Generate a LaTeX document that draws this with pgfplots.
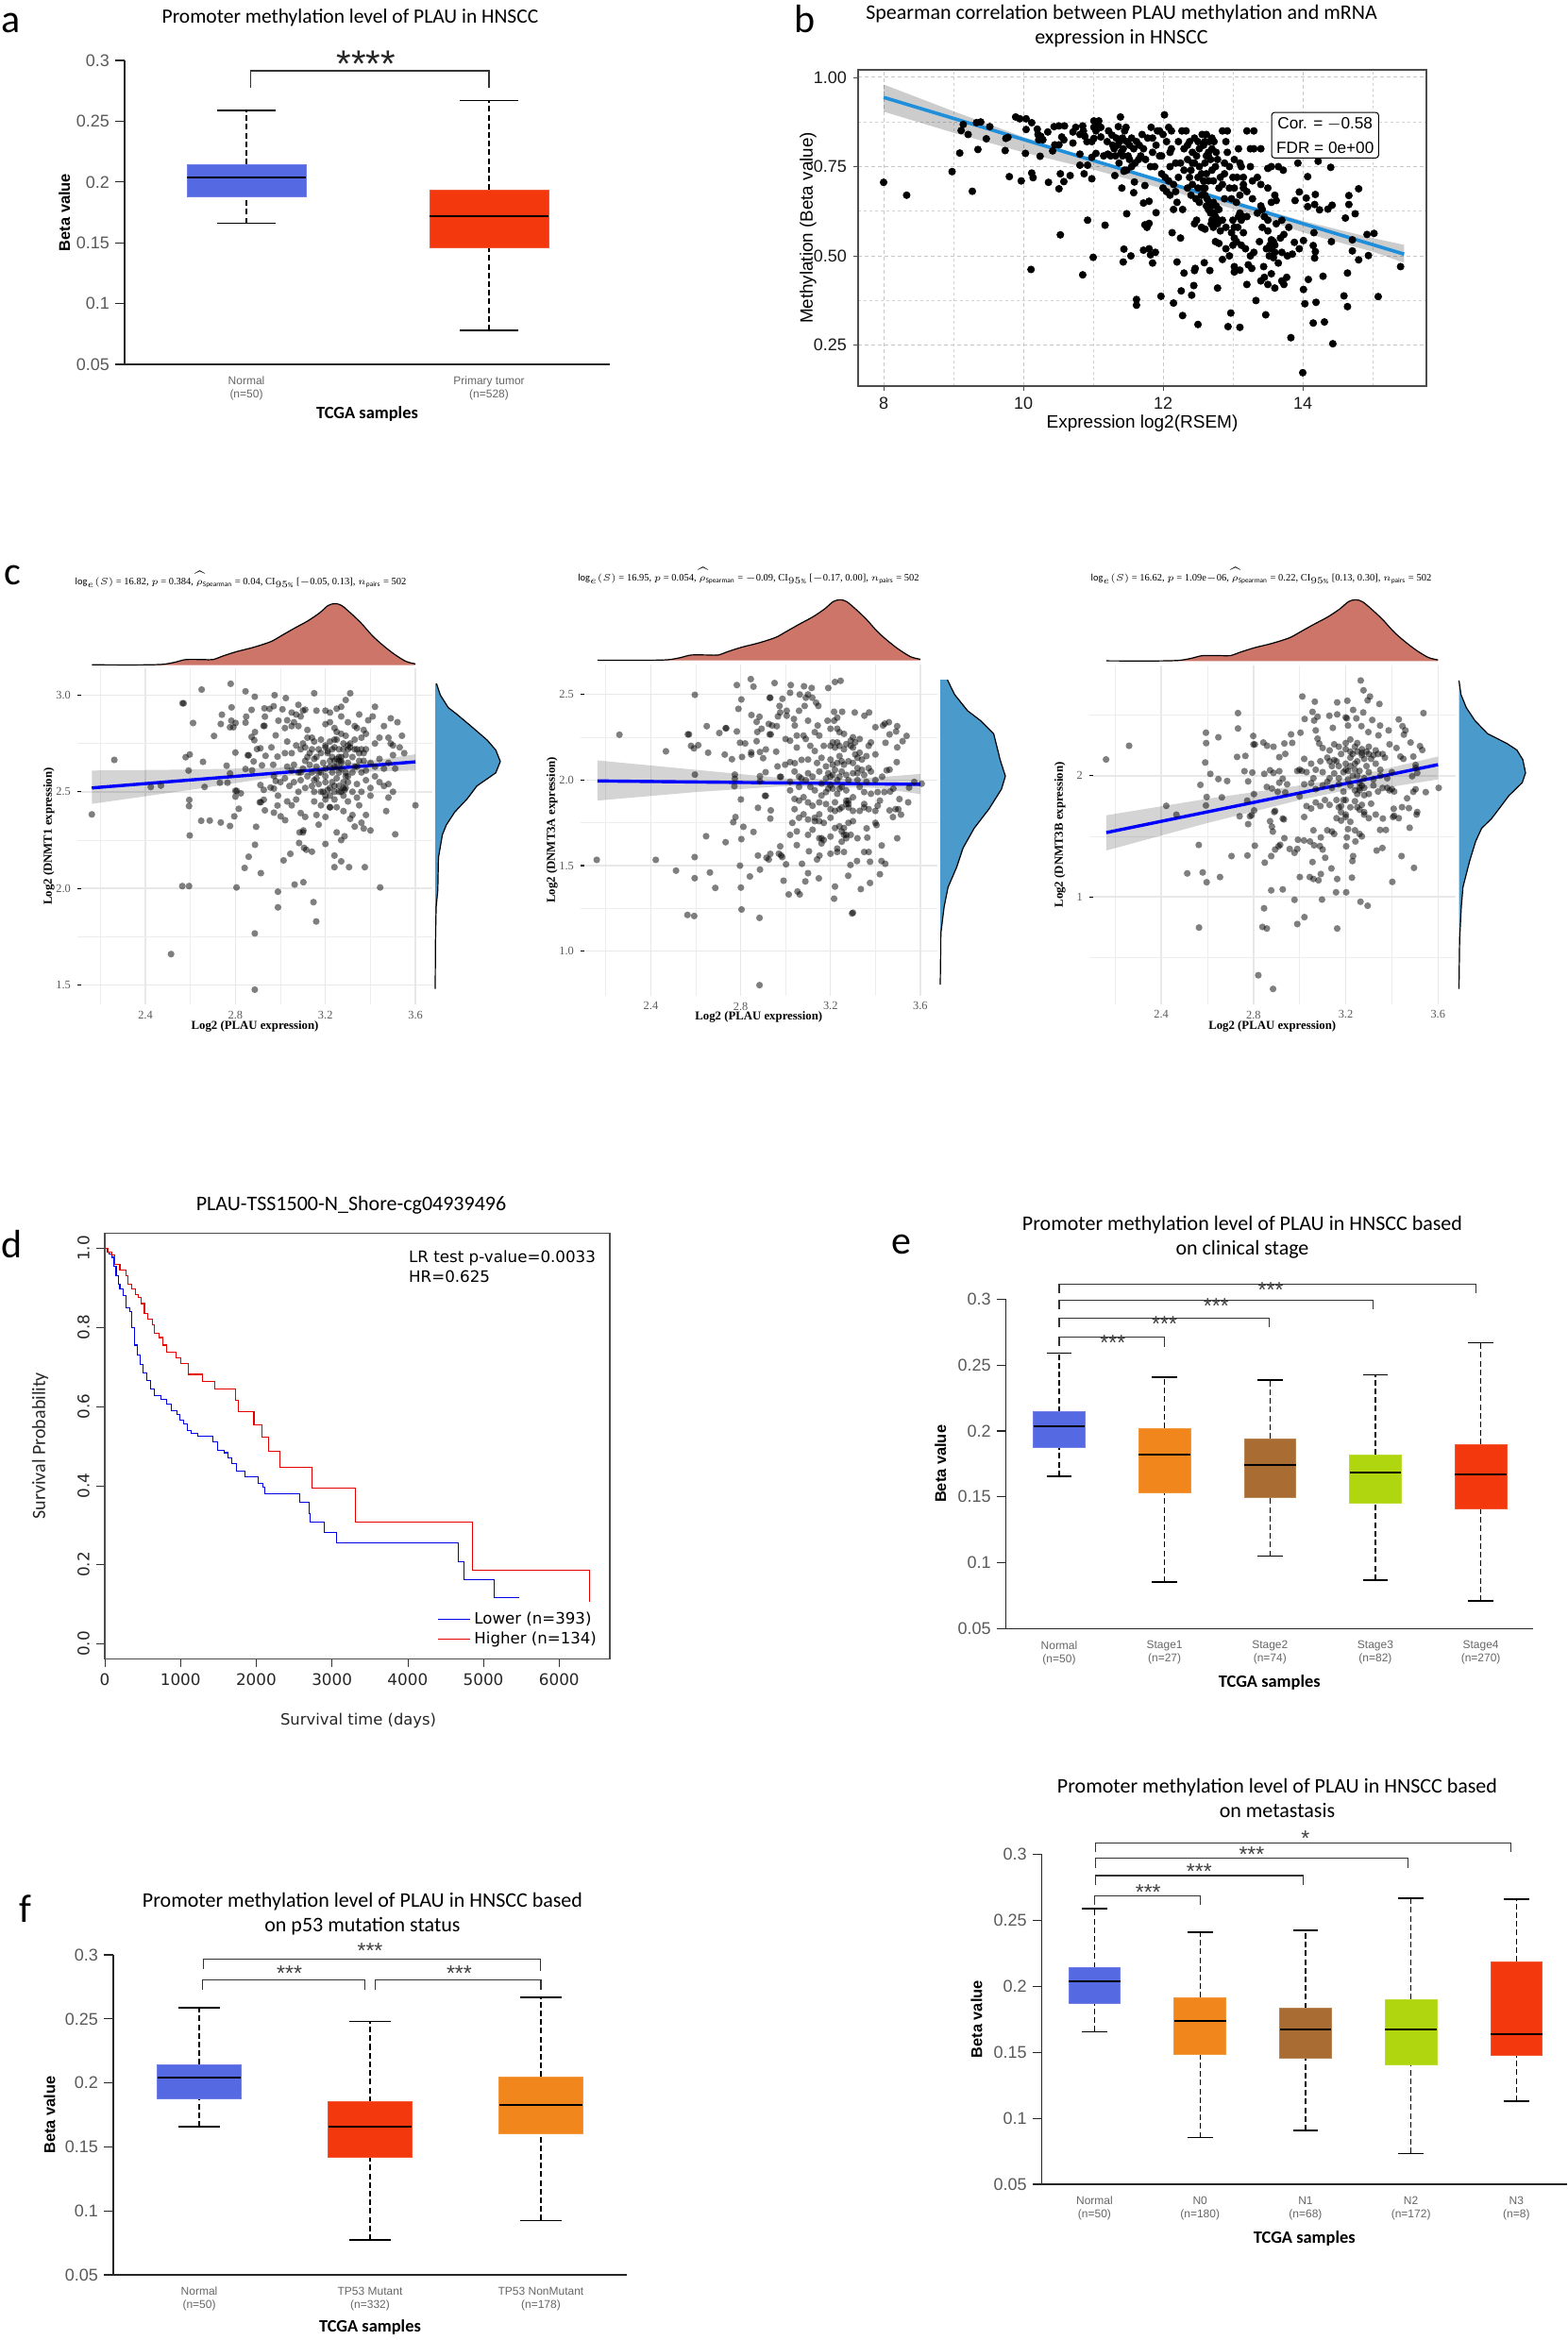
\documentclass[border=0pt]{standalone}
\usepackage{fontspec}
\usepackage{pgfplots}
\pgfplotsset{compat=1.18}
\setmainfont{Carlito}
\newfontfamily\lib{Liberation Sans}
\newfontfamily\libs{Liberation Serif}
\newfontfamily\dej{DejaVu Sans}
\newcommand{\fz}[2]{\fontsize{#1}{#2}\selectfont}
\definecolor{ubl}{HTML}{5469E2}
\definecolor{uor}{HTML}{F0861C}
\definecolor{ubr}{HTML}{A96D33}
\definecolor{ulm}{HTML}{AFD60F}
\definecolor{urd}{HTML}{F4380E}
\definecolor{dtop}{HTML}{CC7568}
\definecolor{dright}{HTML}{4A9BCB}
\definecolor{regb}{HTML}{1F8FDC}
\newcommand{\LET}[3]{\node[inner sep=0pt] at (#1*0.5pt,-#2*0.5pt) {\fz{21}{24}#3};}
\newcommand{\TTL}[3]{\node[inner sep=0pt,align=center,font=\fz{11}{13}] at (#1*0.5pt,-#2*0.5pt) {#3};}
% one box of a box plot: position, low whisker, q1, median, q3, high whisker, colour
\newcommand{\BX}[7]{%
 \pgfmathsetmacro\BXa{#1-.245}\pgfmathsetmacro\BXb{#1+.245}\pgfmathsetmacro\BXc{#1-.12}\pgfmathsetmacro\BXd{#1+.12}%
 \addplot[black,line width=.6pt,dash pattern=on 3pt off 1.6pt] coordinates {(#1,#2)(#1,#3)};
 \addplot[black,line width=.6pt,dash pattern=on 3pt off 1.6pt] coordinates {(#1,#5)(#1,#6)};
 \addplot[black,line width=.8pt] coordinates {(\BXc,#2)(\BXd,#2)};
 \addplot[black,line width=.8pt] coordinates {(\BXc,#6)(\BXd,#6)};
 \addplot[fill=#7,draw=#7!85!white,line width=.4pt] coordinates {(\BXa,#3)(\BXb,#3)(\BXb,#5)(\BXa,#5)} -- cycle;
 \addplot[black,line width=1pt] coordinates {(\BXa,#4)(\BXb,#4)};
}
\newcommand{\BR}[5]{\addplot[black!80,line width=.55pt] coordinates {(#1,#3)(#1,#4)(#2,#4)(#2,#5)};}
\newcommand{\ST}[3]{\node[inner sep=0pt,text=black!75,yshift=-2.5pt] at (axis cs:#1,#2) {\lib\fz{11.5}{12}#3};}
\pgfplotsset{
 ualcan/.style={scale only axis,clip=false,axis x line*=bottom,axis y line*=left,
   axis line style={-,black!85,line width=.7pt},
   ymin=.05,ymax=.3,ytick={.05,.1,.15,.2,.25,.3},yticklabels={0.05,0.1,0.15,0.2,0.25,0.3},
   tick align=outside,major tick length=5pt,tick style={black!85,line width=.6pt},
   x tick style={draw=none},
   yticklabel style={font=\lib\fz{9}{10},text=black!65,xshift=.5pt},
   xticklabel style={font=\lib\fz{6}{7},text=black!60,align=center,yshift=2pt},
   ylabel={Beta value},xlabel={TCGA samples},
   y label style={at={(axis description cs:-.124,.5)},anchor=center,font=\lib\bfseries\fz{8.2}{9}},
   x label style={at={(axis description cs:.5,-.164)},anchor=center,font=\bfseries\fz{9.2}{10}}},
 cc/.style={scale only axis,clip=false,
   xtick={2.4,2.8,3.2,3.6},xticklabels={2.4,2.8,3.2,3.6},minor xtick={2.2,2.6,3.0,3.4},
   grid=both,major grid style={draw=black!9,line width=.7pt},minor grid style={draw=black!7,line width=.4pt},
   axis line style={draw=none},tick pos=left,major tick length=2pt,minor tick length=0pt,
   x tick style={draw=none},y tick style={black,line width=.6pt},
   ticklabel style={font=\libs\fz{6.2}{7},text=black!65},
   xlabel={Log2 (PLAU expression)},
   x label style={font=\libs\bfseries\fz{6.4}{7},at={(axis description cs:.5,-.066)},anchor=center},
   y label style={font=\libs\bfseries\fz{6.4}{7},at={(axis description cs:-.08,.5)},anchor=center}},
 sc/.style={only marks,mark=*,mark size=1.8pt,mark options={draw opacity=0,line width=0pt,fill=black,fill opacity=.5}},
 ci/.style={fill=black,fill opacity=.17,draw=none},
 rl/.style={blue,line width=1.7pt},
 dtopax/.style={scale only axis,hide axis,xmin=#1,ymin=0,ymax=1,clip=false},
}
\newcommand{\TOPD}{
 \addplot[fill=dtop,draw=none] coordinates {(2.162,0)(2.355,.003)(2.475,.012)(2.535,.05)(2.58,.09)(2.656,.09)(2.70,.09)(2.746,.15)(2.806,.22)(2.881,.29)(2.956,.38)(3.00,.47)(3.062,.6)(3.122,.72)(3.174,.85)(3.212,.97)(3.242,1)(3.272,.97)(3.317,.83)(3.362,.67)(3.408,.48)(3.453,.33)(3.505,.18)(3.558,.06)(3.60,.02)(3.60,0)} -- cycle;
 \addplot[black,line width=.6pt,smooth] coordinates {(2.162,.005)(2.355,.003)(2.475,.012)(2.535,.05)(2.58,.09)(2.656,.09)(2.70,.09)(2.746,.15)(2.806,.22)(2.881,.29)(2.956,.38)(3.00,.47)(3.062,.6)(3.122,.72)(3.174,.85)(3.212,.97)(3.242,1)(3.272,.97)(3.317,.83)(3.362,.67)(3.408,.48)(3.453,.33)(3.505,.18)(3.558,.06)(3.60,.02)};
}
\begin{document}
\begin{tikzpicture}
\path[use as bounding box] (0pt,0pt) rectangle (830pt,-1239.5pt);
\LET{12}{24}{a}\LET{853}{20}{b}\LET{13}{609}{c}\LET{13}{1318}{d}\LET{955}{1318}{e}\LET{27}{2022}{f}
\node[inner sep=0pt] at (371*0.5pt,-19*0.5pt) {\fz{10.75}{13}Promoter methylation level of PLAU in HNSCC};
\TTL{1188}{28}{Spearman correlation between PLAU methylation and mRNA\\expression in HNSCC}
\TTL{372}{1277}{PLAU-TSS1500-N\_Shore-cg04939496}
\TTL{1316}{1311}{Promoter methylation level of PLAU in HNSCC based\\on clinical stage}
\TTL{384}{2028}{Promoter methylation level of PLAU in HNSCC based\\on p53 mutation status}
\TTL{1353}{1905}{Promoter methylation level of PLAU in HNSCC based\\on metastasis}
\node[inner sep=0pt] at (255*0.5pt,-614*0.5pt) {\libs\fz{5.25}{7}$\log_{e}(S)$ = 16.82, $p$ = 0.384, $\widehat{\rho}_{\mathrm{Spearman}}$ = 0.04, CI$_{95\%}$ [$-$0.05, 0.13], $n_{\mathrm{pairs}}$ = 502};
\node[inner sep=0pt] at (793*0.5pt,-610*0.5pt) {\libs\fz{5.25}{7}$\log_{e}(S)$ = 16.95, $p$ = 0.054, $\widehat{\rho}_{\mathrm{Spearman}}$ = $-$0.09, CI$_{95\%}$ [$-$0.17, 0.00], $n_{\mathrm{pairs}}$ = 502};
\node[inner sep=0pt] at (1336*0.5pt,-610*0.5pt) {\libs\fz{5.25}{7}$\log_{e}(S)$ = 16.62, $p$ = 1.09e$-$06, $\widehat{\rho}_{\mathrm{Spearman}}$ = 0.22, CI$_{95\%}$ [0.13, 0.30], $n_{\mathrm{pairs}}$ = 502};

% ---------- a
\begin{axis}[ualcan,at={(66pt,-193pt)},anchor=south west,width=257pt,height=161pt,
 xmin=-.502,xmax=1.498,xtick={0,1},xticklabels={{Normal\\(n=50)},{Primary tumor\\(n=528)}}]
\BX{0}{.166}{.188}{.204}{.2145}{.259}{ubl}
\BX{1}{.078}{.146}{.172}{.1935}{.267}{urd}
\BR{.016}{1}{.2775}{.2915}{.2775}
\node[inner sep=0pt,text=black!85,yshift=-4.4pt] at (axis cs:.494,.3036) {\lib\fz{20}{21}****};
\end{axis}

% ---------- b
\begin{axis}[scale only axis,clip=false,at={(454.5pt,-204.5pt)},anchor=south west,width=301pt,height=167.5pt,
 xmin=7.635,xmax=15.77,ymin=.1355,ymax=1.021,
 xtick={8,10,12,14},xticklabels={8,10,12,14},minor xtick={9,11,13,15},
 ytick={.25,.5,.75,1},yticklabels={0.25,0.50,0.75,1.00},minor ytick={.375,.625,.875},
 grid=both,major grid style={draw=black!22,dash pattern=on 2pt off 1.5pt,line width=.5pt},minor grid style={draw=black!18,dash pattern=on 1.5pt off 1.5pt,line width=.45pt},
 axis line style={black!70,line width=.7pt},tick pos=left,tick align=outside,major tick length=2.5pt,minor tick length=0pt,
 tick style={black!70},ticklabel style={font=\lib\fz{9}{10},text=black!90},
 xlabel={Expression log2(RSEM)},ylabel={Methylation (Beta value)},
 x label style={font=\lib\fz{9.5}{11},at={(axis description cs:.5,-.118)},anchor=center},
 y label style={font=\lib\fz{9.4}{10},at={(axis description cs:-.088,.5)},anchor=center}]
\addplot[only marks,mark=*,mark size=1.8pt,mark options={draw=black,fill=black}] coordinates {
(8.0,.706)(8.33,.67)(8.98,.736)(9.09,.788)(9.27,.681)(9.11,.851)(9.14,.868)(9.21,.84)(9.33,.873)(9.39,.875)(9.35,.798)(9.47,.828)(9.52,.862)(9.74,.795)(9.75,.829)(9.78,.832)(9.8,.722)(9.89,.889)(9.95,.884)(9.97,.71)(10.03,.787)(10.04,.884)(10.04,.854)(10.11,.462)(10.12,.873)(10.12,.732)(10.14,.719)(10.2,.855)(10.21,.84)(10.25,.835)(10.22,.825)(10.28,.825)(10.24,.779)(10.35,.847)(10.36,.706)(10.42,.794)(10.44,.862)(10.45,.811)(10.51,.811)(10.51,.864)(10.51,.688)(10.53,.73)(10.53,.559)(10.55,.833)(10.58,.708)(10.58,.825)(10.59,.864)(10.67,.725)(10.71,.816)(10.71,.847)(10.75,.86)(10.81,.785)(10.81,.754)(10.85,.864)(10.85,.447)(10.86,.85)(10.81,.84)(10.87,.73)(10.88,.835)(10.91,.82)(10.92,.754)(10.92,.6)(10.98,.716)(10.98,.776)(10.98,.82)(11.0,.496)(11.01,.878)(11.01,.86)(11.01,.829)(11.04,.864)(11.04,.85)(11.04,.787)(11.08,.878)(11.11,.86)(11.11,.833)(11.17,.586)
(11.21,.785)(11.27,.838)(11.25,.78)(11.31,.725)(11.33,.83)(11.36,.862)(11.39,.889)(11.3,.8)(11.35,.81)(11.38,.82)(11.4,.79)(11.42,.83)(11.43,.8)(11.44,.737)(11.41,.69)(11.45,.85)(11.47,.86)(11.48,.618)(11.48,.82)(11.5,.78)(11.52,.81)(11.48,.74)(11.55,.83)(11.58,.8)(11.58,.677)(11.59,.707)(11.6,.76)(11.62,.82)(11.66,.81)(11.7,.84)(11.72,.648)(11.74,.697)(11.75,.77)(11.78,.83)(11.8,.653)(11.83,.86)(11.85,.79)(11.88,.75)(11.9,.621)(11.92,.85)(11.95,.78)(11.98,.73)(12.0,.84)(12.02,.895)(12.05,.82)(12.08,.86)(12.1,.79)(12.12,.85)(12.0,.69)(12.05,.68)(12.1,.67)(12.15,.63)(12.2,.65)(12.28,.63)(12.22,.72)(12.25,.76)(12.3,.8)(12.27,.85)(12.33,.85)(12.35,.77)(12.38,.82)(12.4,.74)(12.42,.7)(12.45,.83)(12.48,.78)(12.5,.69)(12.52,.8)(12.55,.73)(12.56,.84)(12.6,.76)(12.62,.84)(12.65,.71)(12.66,.82)(12.7,.8)(12.72,.65)(12.75,.75)(12.8,.69)(12.85,.85)(12.88,.73)(12.92,.85)(12.9,.82)(12.95,.69)(13.02,.77)(13.06,.72)(13.1,.76)(13.15,.69)(13.2,.85)(13.25,.8)(13.3,.85)(13.3,.8)
(11.44,.519)(11.54,.5)(11.43,.483)(11.72,.516)(11.8,.52)(11.89,.51)(11.82,.503)(11.85,.48)(11.74,.587)(11.8,.591)(11.77,.58)(11.62,.378)(11.62,.362)(11.97,.387)(12.13,.565)(12.25,.55)(12.2,.483)(12.3,.452)(12.46,.465)(12.45,.459)(12.67,.459)(12.59,.481)(12.26,.402)(12.44,.417)(12.41,.39)(12.15,.368)(12.28,.333)(12.5,.308)(12.78,.41)(12.93,.302)(12.97,.34)(13.1,.3)(13.33,.375)(13.47,.335)(13.83,.271)(14,.173)(14.43,.254)(14.31,.315)(14.15,.312)(14.03,.366)(14.01,.406)(14.19,.37)(14.59,.388)(14.64,.358)(15.08,.386)(14.29,.443)(14.08,.434)(14.64,.452)(14.8,.489)(14.71,.514)(14.94,.501)(15.4,.47)(14.92,.56)(15.02,.563)(14.71,.545)(14.41,.54)(14.61,.606)(14.75,.618)(14.66,.644)(14.66,.669)(14.8,.688)(14.42,.642)(14.36,.631)(14.24,.629)(14.07,.638)(14.17,.644)(14.05,.662)(14.18,.672)(13.95,.679)(13.89,.655)(14.07,.722)(13.93,.76)(14.22,.765)(14.4,.748)(14.16,.565)(14.18,.512)(14.17,.494)(14.15,.529)(14.01,.543)(13.95,.52)(13.88,.538)(13.85,.505)
(12.45,.59)(12.48,.6)(12.55,.58)(12.6,.575)(12.62,.64)(12.65,.63)(12.68,.62)(12.7,.6)(12.72,.58)(12.75,.61)(12.78,.59)(12.8,.63)(12.82,.57)(12.85,.6)(12.88,.66)(12.9,.52)(12.75,.54)(12.8,.535)(12.85,.49)(12.95,.5)(12.98,.565)(13.0,.6)(13.02,.55)(13.05,.54)(13.07,.58)(13.1,.62)(13.12,.53)(13.15,.565)(13.18,.52)(13.2,.61)(13.22,.475)(13.25,.5)(13.27,.465)(13.3,.51)(13.35,.62)(13.38,.54)(13.42,.58)(13.44,.47)(13.48,.52)(13.5,.57)(13.52,.5)(13.55,.545)(13.58,.495)(13.6,.53)(13.65,.48)(13.68,.55)(13.7,.51)(13.73,.56)(13.78,.5)(13.8,.58)(13.02,.455)(13.1,.46)(13.2,.42)(13.4,.43)(13.45,.44)(13.5,.42)(13.55,.45)(13.6,.41)(13.7,.43)(13.77,.44)(13.73,.42)(13.02,.47)(12.98,.66)(13.05,.65)(13.1,.67)(13.15,.7)(13.2,.68)(13.28,.66)(13.35,.72)(13.4,.7)(13.42,.63)(13.5,.69)(13.55,.65)(13.6,.67)(13.65,.75)(13.62,.655)(13.55,.75)(13.5,.745)(13.4,.8)(13.25,.75)(13.28,.71)(13.4,.64)(13.45,.61)(13.5,.6)(13.7,.6)(13.62,.59)(13.72,.74)
(12.1,.75)(12.15,.7)(12.18,.68)(12.3,.74)(12.35,.69)(12.38,.72)(12.45,.76)(12.5,.72)(12.55,.67)(12.58,.71)(12.6,.69)(12.62,.73)(12.63,.66)(12.68,.77)(12.7,.74)(12.72,.71)(12.78,.77)(12.82,.72)(12.85,.7)(12.88,.76)(12.92,.79)(12.95,.75)(13.0,.72)(13.02,.69)(13.08,.8)(13.12,.75)(13.15,.72)
(11.15,.78)(11.2,.82)(11.22,.85)(11.28,.81)(11.32,.78)(11.37,.76)(11.42,.78)(11.45,.74)(11.52,.77)(11.55,.75)(11.65,.77)(11.68,.78)(11.72,.8)(11.82,.75)(11.85,.83)(11.9,.81)(11.95,.85)(11.98,.78)(12.03,.72)(12.08,.71)(12.12,.8)(12.18,.76)(12.22,.82)(12.35,.81)(12.42,.76)(12.52,.75)(12.6,.82)(12.65,.79)(12.7,.83)(12.73,.82)(12.76,.79)
(12.4,.67)(12.47,.66)(12.52,.65)(12.57,.69)(12.6,.67)(12.66,.65)(12.7,.64)(12.73,.62)(12.76,.6)(12.69,.59)(12.72,.6)(12.76,.64)(12.8,.6)(12.65,.78)(12.58,.81)(12.62,.78)(12.5,.82)(12.42,.79)(12.9,.58)(13.0,.53)(13.02,.58)(13.08,.61)(13.12,.6)(13.15,.61)(13.55,.52)(13.58,.54)(13.53,.53)(13.6,.51)
};
\addplot[fill=black,fill opacity=.2,draw=none] coordinates {(8,.98)(9,.905)(10,.833)(11,.77)(12,.712)(12.5,.685)(13,.655)(14,.598)(15,.55)(15.45,.531)(15.45,.481)(15,.512)(14,.566)(13,.632)(12.5,.66)(12,.688)(11,.742)(10,.79)(9,.845)(8,.904)} -- cycle;
\addplot[regb,line width=1.8pt] coordinates {(8,.944)(15.45,.505)};
\node[draw=black,fill=white,rounded corners=1.5pt,align=center,inner sep=2.5pt,line width=.5pt,font=\lib\fz{8.6}{13}] at (axis cs:14.32,.838) {Cor. = $-$0.58\\FDR = 0e+00};
\end{axis}

% ---------- c1
\begin{axis}[dtopax=2.098,xmax=3.675,at={(41pt,-352.3pt)},anchor=south west,width=188pt,height=32.55pt]
\TOPD
\end{axis}
\begin{axis}[cc,at={(41pt,-532pt)},anchor=south west,width=188pt,height=178pt,xmin=2.098,xmax=3.675,ymin=1.40,ymax=3.139,
 ytick={1.5,2,2.5,3},yticklabels={1.5,2.0,2.5,3.0},minor ytick={1.75,2.25,2.75},ylabel={Log2 (DNMT1 expression)}]
\addplot[sc] coordinates {
(2.162,2.383)(2.262,2.665)(2.424,2.525)(2.469,2.532)(2.514,1.66)(2.565,2.958)(2.57,2.958)(2.579,2.679)(2.597,2.693)(2.592,2.61)(2.595,2.458)(2.594,2.426)(2.597,2.274)(2.564,2.012)(2.594,2.012)(2.612,2.856)(2.65,3.029)(2.656,2.655)(2.663,2.525)(2.648,2.35)(2.686,2.351)(2.705,2.789)(2.735,2.341)(2.74,2.899)(2.735,2.851)(2.779,3.059)(2.783,2.937)(2.782,2.868)(2.776,2.834)(2.791,2.834)(2.801,2.856)(2.761,2.635)(2.776,2.595)(2.731,2.547)(2.765,2.547)(2.776,2.323)(2.795,2.373)(2.815,2.412)(2.80,2.475)(2.806,2.505)(2.80,2.505)(2.824,2.492)(2.80,2.703)(2.805,2.005)(2.845,3.02)(2.848,2.889)(2.845,2.858)(2.845,2.618)(2.859,2.689)(2.855,2.689)(2.872,2.924)(2.872,2.784)(2.886,2.992)(2.887,2.809)(2.884,2.767)(2.896,2.721)(2.881,2.657)(2.874,2.611)(2.892,2.319)(2.887,2.226)(2.859,2.164)(2.841,2.106)(2.913,2.079)(2.886,1.767)(2.886,1.476)(2.908,2.446)(2.913,2.446)(2.911,2.535)(2.911,2.725)(2.918,2.637)(2.929,2.932)(2.931,2.889)(2.929,2.841)(2.925,2.841)(2.934,2.686)(2.926,2.51)(2.931,2.404)(2.926,2.459)(2.952,2.929)(2.97,2.943)(2.974,3.0)(3.024,2.985)(3.009,2.927)(2.991,2.868)(2.979,2.792)(2.96,2.73)(2.987,2.682)(2.968,2.64)(2.971,2.581)(2.979,2.556)(2.971,2.517)(2.956,2.522)(2.989,2.48)(2.987,2.429)(2.971,2.392)(3.001,2.373)(3.021,2.353)(2.989,1.983)(2.989,1.902)(3.014,2.145)(3.044,2.179)(3.063,2.02)(3.102,2.032)(3.147,1.929)(3.159,1.829)(3.083,2.235)(3.085,2.29)(3.1,2.29)(3.102,2.3)(3.105,2.21)(3.115,2.2)(3.14,2.19)(3.2,2.23)(3.24,2.17)(3.27,2.14)(3.24,2.11)(3.305,2.11)(3.375,2.11)(3.443,2.005)(3.27,2.25)(3.285,2.27)(3.25,2.29)(3.37,2.31)(3.51,2.28)(3.6,2.43)
(3.08,2.95)(3.05,2.91)(3.07,2.9)(3.1,2.92)(3.11,2.925)(3.03,2.87)(3.06,2.86)(3.09,2.89)(3.02,2.83)(3.05,2.84)(3.08,2.84)(3.12,2.82)(3.14,2.78)(3.12,2.78)(3.15,3.01)(3.16,2.92)(3.2,2.92)(3.22,2.91)(3.25,2.93)(3.27,2.94)(3.29,2.975)(3.31,3.01)(3.27,2.89)(3.22,2.86)(3.2,2.85)(3.24,2.83)(3.25,2.81)(3.27,2.8)(3.29,2.79)(3.3,2.86)(3.33,2.84)(3.35,2.9)(3.34,2.83)(3.37,2.82)(3.39,2.87)(3.41,2.89)(3.42,2.94)(3.46,2.84)(3.49,2.88)(3.44,2.78)(3.48,2.78)(3.52,2.86)(3.54,2.79)(3.53,2.73)(3.55,2.7)(3.5,2.69)(3.49,2.75)(3.5,2.74)(3.42,2.75)(3.38,2.8)(3.36,2.78)(3.33,2.77)
(3.02,2.7)(3.03,2.76)(3.05,2.7)(3.07,2.74)(3.09,2.72)(3.1,2.75)(3.11,2.73)(3.13,2.7)(3.15,2.76)(3.17,2.72)(3.18,2.77)(3.2,2.73)(3.21,2.71)(3.22,2.76)(3.23,2.72)(3.24,2.73)(3.25,2.77)(3.26,2.68)(3.27,2.66)(3.28,2.72)(3.3,2.74)(3.31,2.73)(3.32,2.68)(3.34,2.72)(3.35,2.7)(3.37,2.7)(3.38,2.72)(3.4,2.65)(3.42,2.63)(3.44,2.67)(3.46,2.62)(3.48,2.65)(3.51,2.62)(3.03,2.63)(3.05,2.61)(3.06,2.64)(3.08,2.6)(3.1,2.62)(3.11,2.66)(3.13,2.64)(3.14,2.6)(3.15,2.67)(3.16,2.63)(3.18,2.6)(3.19,2.65)(3.2,2.62)(3.22,2.66)(3.23,2.6)(3.24,2.63)(3.25,2.67)(3.26,2.6)(3.27,2.65)(3.29,2.6)(3.3,2.65)(3.32,2.6)(3.34,2.63)(3.36,2.6)(3.38,2.61)
(3.0,2.55)(3.02,2.57)(3.04,2.53)(3.06,2.55)(3.08,2.5)(3.09,2.56)(3.11,2.52)(3.12,2.58)(3.14,2.53)(3.15,2.5)(3.16,2.57)(3.17,2.54)(3.18,2.5)(3.2,2.55)(3.21,2.51)(3.22,2.48)(3.23,2.55)(3.24,2.5)(3.25,2.57)(3.26,2.53)(3.27,2.5)(3.28,2.55)(3.285,2.51)(3.29,2.58)(3.3,2.55)(3.32,2.5)(3.34,2.54)(3.36,2.5)(3.38,2.56)(3.4,2.52)(3.42,2.58)(3.44,2.55)(3.46,2.53)(3.48,2.54)(3.5,2.5)(3.48,2.47)(3.4,2.48)(3.03,2.45)(3.05,2.43)(3.07,2.46)(3.09,2.39)(3.11,2.37)(3.15,2.45)(3.18,2.43)(3.2,2.46)(3.22,2.42)(3.24,2.46)(3.25,2.42)(3.28,2.4)(3.3,2.45)(3.32,2.38)(3.34,2.47)(3.35,2.43)(3.36,2.34)(3.38,2.38)(3.47,2.4)(3.16,2.38)(3.17,2.33)(3.2,2.37)(3.31,2.36)(3.33,2.32)(3.4,2.3)
(3.2,2.74)(3.21,2.7)(3.23,2.68)(3.24,2.77)(3.26,2.72)(3.27,2.68)(3.28,2.75)(3.29,2.69)(3.3,2.72)(3.31,2.75)(3.33,2.72)(3.35,2.66)(3.36,2.72)(3.37,2.66)(3.26,2.66)(3.25,2.63)(3.24,2.66)(3.22,2.63)(3.2,2.58)(3.22,2.52)(3.24,2.53)(3.26,2.5)(3.28,2.48)(3.29,2.52)(3.28,2.52)(3.3,2.58)(3.12,2.68)(3.14,2.72)(3.16,2.68)(3.18,2.7)(3.15,2.56)(3.2,2.48)(3.22,2.42)(3.19,2.5)(3.17,2.6)(3.33,2.63)(3.27,2.62)(3.09,2.6)
};
\addplot[ci] coordinates {(2.162,2.61)(2.6,2.615)(3.0,2.625)(3.2,2.635)(3.4,2.66)(3.6,2.694)(3.6,2.61)(3.4,2.605)(3.2,2.595)(3.0,2.58)(2.6,2.51)(2.162,2.4375)} -- cycle;
\addplot[rl] coordinates {(2.162,2.52)(3.6,2.655)};
\end{axis}
\begin{axis}[scale only axis,hide axis,clip=false,at={(230.5pt,-532pt)},anchor=south west,width=34.5pt,height=178pt,xmin=0,xmax=1,ymin=1.40,ymax=3.139]
\addplot[fill=dright,draw=none] coordinates {(0,3.06)(.02,3.06)(.08,3.0)(.2,2.936)(.33,2.902)(.57,2.834)(.80,2.767)(.93,2.716)(1,2.657)(.93,2.598)(.64,2.53)(.49,2.463)(.30,2.395)(.17,2.328)(.11,2.277)(.05,2.159)(.04,1.99)(.015,1.905)(.005,1.736)(0,1.48)} -- cycle;
\addplot[black,line width=.6pt] coordinates {(.02,3.06)(.08,3.0)(.2,2.936)(.33,2.902)(.57,2.834)(.80,2.767)(.93,2.716)(1,2.657)(.93,2.598)(.64,2.53)(.49,2.463)(.30,2.395)(.17,2.328)(.11,2.277)(.05,2.159)(.04,1.99)(.015,1.905)(.005,1.736)(0,1.48)};
\end{axis}

% ---------- c2
\begin{axis}[dtopax=2.087,xmax=3.674,at={(307.5pt,-349.85pt)},anchor=south west,width=188.75pt,height=32.15pt]
\TOPD
\end{axis}
\begin{axis}[cc,at={(307.5pt,-527.35pt)},anchor=south west,width=188.75pt,height=175.35pt,xmin=2.087,xmax=3.674,ymin=.741,ymax=2.675,
 ytick={1,1.5,2,2.5},yticklabels={1.0,1.5,2.0,2.5},minor ytick={1.25,1.75,2.25},ylabel={Log2 (DNMT3A expression)}]
\addplot[sc] coordinates {
(2.159,1.534)(2.26,2.265)(2.422,1.534)(2.467,2.168)(2.512,1.471)(2.563,1.212)(2.593,1.206)(2.595,1.427)(2.595,1.55)(2.596,2.032)(2.596,2.498)(2.565,2.267)(2.57,2.267)(2.579,2.2)(2.592,2.185)(2.611,2.204)(2.655,2.16)(2.649,2.315)(2.646,1.672)(2.663,1.46)(2.687,1.37)(2.705,2.275)(2.736,2.303)(2.733,2.303)(2.729,2.149)(2.761,2.122)(2.733,1.637)(2.767,1.754)(2.777,1.784)(2.774,2.032)(2.774,2.008)(2.772,1.964)(2.783,2.555)(2.783,2.284)(2.79,2.416)(2.803,2.471)(2.797,2.218)(2.82,2.214)(2.806,2.135)(2.801,1.887)(2.812,1.727)(2.803,1.655)(2.797,1.5)(2.801,1.372)(2.804,1.244)(2.884,1.195)(2.884,.802)(2.841,1.437)(2.857,1.697)(2.877,1.838)(2.848,2.38)(2.845,2.59)(2.857,2.546)(2.871,2.34)(2.884,2.37)(2.874,2.281)(2.871,2.227)(2.847,2.162)(2.847,2.149)(2.886,2.164)(2.9,2.128)(2.912,2.179)(2.893,2.3)(2.886,2.023)(2.886,1.992)(2.911,2.046)(2.908,1.908)(2.912,1.908)(2.877,1.559)(2.886,1.477)(2.915,1.546)(2.925,1.536)(2.932,1.569)(2.932,1.775)(2.934,1.823)(2.929,2.481)(2.932,2.481)(2.929,2.267)(2.934,2.267)(2.925,2.328)(2.94,2.319)(2.958,2.166)(2.951,2.567)(2.976,2.395)(2.973,2.433)(2.986,2.475)(2.966,2.372)(2.961,2.315)(2.964,2.08)(2.979,2.019)(2.975,2.019)(2.998,2.09)(3.02,2.105)(3.041,2.099)(3.071,2.118)(2.976,1.613)(2.97,1.57)(2.98,1.56)(2.985,1.55)(3.002,1.508)(2.991,1.412)(3.014,1.332)(3.053,1.349)(3.063,1.332)(3.1,1.456)(3.088,1.408)(3.073,1.511)(3.104,1.584)(3.151,1.559)(3.14,1.536)(3.148,1.426)(3.22,1.378)(3.216,1.307)(3.279,1.441)(3.296,1.221)(3.3,1.225)(3.335,1.363)(3.376,1.399)(3.42,1.45)(3.427,1.527)(3.444,1.511)(3.376,1.523)(3.318,1.527)(3.289,1.504)(3.497,1.66)(3.428,1.618)(3.364,1.664)(3.361,1.718)(3.405,1.737)(3.478,1.784)(3.514,1.798)(3.502,1.83)(3.463,1.823)(3.49,1.83)(3.546,1.87)(3.507,1.889)(3.466,1.933)(3.606,1.979)(3.573,1.989)(3.55,1.956)(3.495,2.105)(3.463,2.061)(3.45,2.057)(3.539,2.258)(3.521,2.227)(3.497,2.191)(3.497,2.315)(3.492,2.284)(3.463,2.267)(3.46,2.338)(3.442,2.33)(3.434,2.319)(3.445,2.218)(3.4,2.309)(3.372,2.395)(3.351,2.376)(3.308,2.395)(3.252,2.399)(3.216,2.399)(3.245,2.58)(3.22,2.573)(3.19,2.538)(3.116,2.538)(3.082,2.548)(3.023,2.555)(3.02,2.51)(3.063,2.5)(3.09,2.481)(3.1,2.5)(3.119,2.481)(3.136,2.452)(3.146,2.433)(3.085,2.433)(3.06,2.405)(3.005,2.405)(3.005,2.376)(3.037,2.357)(3.041,2.319)(3.1,2.347)(3.143,2.319)(3.187,2.347)(3.216,2.347)(3.23,2.365)
(3.0,2.24)(3.02,2.23)(3.05,2.26)(3.08,2.26)(3.09,2.24)(3.13,2.28)(3.15,2.26)(3.2,2.3)(3.23,2.3)(3.24,2.28)(3.26,2.27)(3.3,2.25)(3.31,2.22)(3.33,2.24)(3.37,2.2)(3.38,2.22)(3.05,2.19)(3.11,2.2)(3.13,2.17)(3.17,2.2)(3.21,2.22)(3.24,2.2)(3.26,2.18)(3.29,2.2)(3.31,2.15)(3.33,2.16)(3.36,2.14)(3.4,2.15)(3.1,2.12)(3.14,2.1)(3.16,2.13)(3.18,2.08)(3.2,2.12)(3.22,2.06)(3.24,2.14)(3.26,2.09)(3.28,2.11)(3.3,2.1)(3.32,2.07)(3.34,2.12)(3.37,2.07)(3.38,2.05)(3.1,2.04)(3.12,2.02)(3.15,2.05)(3.19,2.04)(3.2,2.02)(3.23,2.0)(3.25,2.05)(3.28,2.0)(3.3,2.04)(3.32,2.0)(3.35,2.03)(3.36,1.99)(3.4,2.0)(3.43,2.02)(3.48,1.95)(3.11,1.96)(3.13,1.94)(3.16,1.91)(3.18,1.93)(3.21,1.95)(3.23,1.92)(3.25,1.96)(3.27,1.94)(3.3,1.9)(3.33,1.96)(3.35,1.93)(3.38,1.92)(3.41,1.93)(3.02,1.94)(3.04,1.89)(3.06,1.88)(3.08,1.9)(3.1,1.87)(3.12,1.85)(3.15,1.87)(3.18,1.86)(3.2,1.83)(3.22,1.87)(3.24,1.83)(3.27,1.88)(3.28,1.86)(3.3,1.82)(3.33,1.82)(3.35,1.84)(3.4,1.82)(3.41,1.85)(3.04,1.83)(3.03,1.75)(3.06,1.78)(3.08,1.8)(3.1,1.77)(3.13,1.76)(3.15,1.8)(3.17,1.75)(3.2,1.78)(3.22,1.72)(3.24,1.73)(3.26,1.72)(3.28,1.75)(3.3,1.76)(3.02,1.68)(3.05,1.7)(3.1,1.68)(3.12,1.71)(3.15,1.66)(3.16,1.63)(3.2,1.67)(3.23,1.6)(3.25,1.64)(3.27,1.66)(3.29,1.68)(3.32,1.66)(3.05,1.62)(3.2,1.57)(3.23,1.58)(3.26,1.58)(3.35,1.58)(3.37,1.58)(3.4,1.75)(3.42,1.88)(3.44,1.93)(3.02,1.99)(3.06,1.96)(3.04,2.05)(3.06,2.02)
(3.2,2.2)(3.22,2.19)(3.23,2.22)(3.27,2.21)(3.29,2.23)(3.3,2.19)(3.32,2.13)(3.21,2.09)(3.23,2.1)(3.25,2.11)(3.27,2.03)(3.18,2.01)(3.21,2.03)(3.24,2.02)(3.16,1.98)(3.19,1.95)(3.2,1.97)(3.27,1.86)(3.28,1.88)(3.28,1.84)(3.25,1.84)(3.22,1.82)(3.35,1.86)(3.37,1.83)(3.25,1.7)(3.26,1.68)(3.27,1.68)(3.15,1.76)(3.13,1.78)(3.17,1.65)(3.16,1.66)(3.07,2.01)(3.09,2.0)(3.24,1.95)(3.32,2.04)(3.34,2.06)
};
\addplot[ci] coordinates {(2.162,2.115)(2.6,2.06)(3.0,2.01)(3.2,2.005)(3.4,2.015)(3.6,2.036)(3.6,1.918)(3.4,1.955)(3.2,1.96)(3.0,1.965)(2.6,1.93)(2.162,1.88)} -- cycle;
\addplot[rl] coordinates {(2.162,1.995)(3.6,1.975)};
\end{axis}
\begin{axis}[scale only axis,hide axis,clip=false,at={(498pt,-527.35pt)},anchor=south west,width=34.5pt,height=175.35pt,xmin=0,xmax=1,ymin=.741,ymax=2.675]
\addplot[fill=dright,draw=none] coordinates {(0,2.586)(.11,2.586)(.22,2.5)(.42,2.405)(.62,2.347)(.82,2.271)(.87,2.195)(.92,2.118)(1,2.023)(.94,1.947)(.75,1.832)(.52,1.718)(.35,1.603)(.25,1.489)(.12,1.374)(.06,1.26)(.01,1.107)(0,.805)} -- cycle;
\addplot[black,line width=.6pt] coordinates {(.11,2.586)(.22,2.5)(.42,2.405)(.62,2.347)(.82,2.271)(.87,2.195)(.92,2.118)(1,2.023)(.94,1.947)(.75,1.832)(.52,1.718)(.35,1.603)(.25,1.489)(.12,1.374)(.06,1.26)(.01,1.107)(0,.805)};
\end{axis}

% ---------- c3
\begin{axis}[dtopax=2.088,xmax=3.675,at={(576.9pt,-350.2pt)},anchor=south west,width=193.9pt,height=32.5pt]
\TOPD
\end{axis}
\begin{axis}[cc,at={(576.9pt,-531.85pt)},anchor=south west,width=193.9pt,height=179.35pt,xmin=2.088,xmax=3.675,ymin=.115,ymax=2.911,
 ytick={1,2},yticklabels={1,2},minor ytick={.5,1.5,2.5},ylabel={Log2 (DNMT3B expression)}]
\addplot[sc] coordinates {
(2.161,2.135)(2.261,2.248)(2.422,1.752)(2.466,1.679)(2.513,1.194)(2.58,1.202)(2.597,1.121)(2.655,1.164)(2.564,.747)(2.563,1.429)(2.57,1.925)(2.591,2.11)(2.594,2.356)(2.595,2.27)(2.613,2.016)(2.648,1.973)(2.686,1.957)(2.648,2.318)(2.597,1.825)(2.594,1.755)(2.663,1.822)(2.705,1.337)(2.733,2.518)(2.733,2.391)(2.729,2.156)(2.765,2.164)(2.761,2.038)(2.795,2.027)(2.777,1.954)(2.802,1.849)(2.773,1.795)(2.74,1.666)(2.777,1.601)(2.785,1.666)(2.792,1.675)(2.803,1.714)(2.774,1.342)(2.806,1.423)(2.849,1.283)(2.877,1.337)(2.799,2.329)(2.8,2.259)(2.806,2.259)(2.843,2.275)(2.859,2.248)(2.887,2.24)(2.847,2.016)(2.872,2.046)(2.887,2.024)(2.912,2.038)(2.858,1.908)(2.88,1.895)(2.905,1.868)(2.912,1.943)(2.927,1.976)(2.946,1.93)(2.938,1.863)(2.934,2.267)(2.938,2.181)(2.912,2.154)(2.963,2.342)(2.968,2.272)(2.89,1.701)(2.894,1.71)(2.872,1.625)(2.88,1.58)(2.884,1.539)(2.927,1.647)(2.932,1.64)(2.934,1.485)(2.894,1.391)(2.909,1.418)(2.916,1.43)(2.957,1.396)(2.978,1.364)(2.99,1.396)(2.993,1.472)(3.019,1.466)(3.045,1.458)(3.063,1.426)(3.088,1.42)(3.1,1.391)(3.092,1.491)(3.111,1.323)(3.056,1.288)(3.138,1.235)(3.092,1.189)(3.001,1.164)(3.044,1.164)(3.06,1.148)(3.082,1.137)(3.163,1.148)(3.227,1.159)(2.877,1.054)(2.927,1.062)(2.978,.976)(3.097,.978)(3.158,1.038)(3.202,1.038)(3.264,.96)(3.295,.927)(3.402,1.124)(3.496,1.24)(3.442,1.337)(3.334,1.383)(3.359,1.404)(3.232,1.337)(3.229,1.296)(3.205,1.491)(3.202,1.418)(3.242,1.458)(2.846,.906)(2.839,.752)(2.858,.739)(2.99,.776)(3.021,.833)(3.163,.739)(2.821,.353)(2.885,.24)(3.265,2.787)(3.277,2.706)(3.295,2.623)(3.305,2.655)(3.346,2.593)(3.207,2.62)(3.163,2.606)(3.066,2.612)(3.012,2.655)(3.056,2.528)(3.078,2.488)(3.063,2.456)(3.022,2.469)(3.129,2.496)(3.163,2.507)(3.2,2.482)(3.205,2.475)(3.232,2.544)(3.276,2.523)(3.246,2.474)(3.21,2.415)(3.268,2.41)(3.144,2.396)(3.07,2.375)(3.004,2.356)(3.078,2.307)(3.085,2.267)(3.537,2.518)(3.43,2.466)(3.446,2.41)(3.459,2.375)(3.452,2.34)(3.481,2.275)(3.522,2.245)(3.532,2.213)(3.315,2.461)(3.349,2.415)(3.386,2.375)(3.298,2.361)(3.342,2.334)(3.493,2.159)(3.437,2.159)(3.503,2.09)(3.503,2.065)(3.51,2.024)(3.488,1.997)(3.603,1.9)(3.547,1.865)(3.503,1.889)(3.493,1.868)(3.51,1.701)(3.507,1.68)(3.477,1.571)(3.466,1.814)(3.444,1.741)(3.474,1.733)(3.408,1.728)(3.405,1.66)(3.41,1.67)(3.43,1.65)(3.361,1.647)(3.349,1.553)(3.374,1.553)
(3.1,2.23)(3.13,2.21)(3.15,2.26)(3.17,2.24)(3.2,2.27)(3.22,2.3)(3.24,2.24)(3.25,2.27)(3.27,2.22)(3.29,2.2)(3.3,2.24)(3.33,2.21)(3.36,2.18)(3.39,2.26)(3.42,2.23)(3.45,2.14)(3.02,2.14)(3.05,2.1)(3.07,2.05)(3.09,2.12)(3.12,2.15)(3.14,2.08)(3.16,2.12)(3.18,2.18)(3.2,2.1)(3.22,2.15)(3.24,2.05)(3.25,2.12)(3.27,2.17)(3.29,2.08)(3.31,2.14)(3.33,2.1)(3.35,2.05)(3.37,2.15)(2.99,2.04)(3.0,2.05)(3.01,2.04)(3.03,2.03)(3.06,1.98)(3.1,2.03)(3.13,1.98)(3.15,2.02)(3.17,1.98)(3.19,2.03)(3.21,2.04)(3.23,2.0)(3.25,2.0)(3.28,1.98)(3.3,2.03)(3.32,1.97)(3.35,2.0)(3.38,1.98)(3.4,2.03)(3.02,1.93)(3.05,1.94)(3.07,1.89)(3.1,1.92)(3.12,1.95)(3.14,1.9)(3.17,1.93)(3.19,1.87)(3.22,1.92)(3.24,1.88)(3.26,1.9)(3.28,1.9)(3.3,1.85)(3.32,1.92)(3.34,1.87)(3.36,1.9)(3.38,1.9)(3.41,1.87)(3.0,1.83)(3.03,1.75)(3.05,1.73)(3.07,1.78)(3.09,1.75)(3.11,1.8)(3.13,1.76)(3.16,1.8)(3.18,1.75)(3.2,1.8)(3.22,1.74)(3.24,1.79)(3.26,1.72)(3.28,1.7)(3.31,1.77)(3.33,1.68)(3.02,1.66)(3.06,1.55)(3.12,1.55)(3.16,1.65)(3.18,1.63)(3.2,1.66)(3.22,1.62)(3.24,1.55)(3.26,1.52)(3.28,1.68)(3.3,1.65)(3.14,1.54)(3.15,1.52)(3.21,1.56)(3.27,1.5)
(3.2,2.22)(3.22,2.2)(3.23,2.18)(3.25,2.2)(3.27,2.19)(3.28,2.14)(3.3,2.18)(3.32,2.17)(3.34,2.18)(3.2,2.05)(3.22,2.08)(3.24,2.1)(3.26,2.04)(3.21,1.97)(3.26,1.94)(3.27,1.92)(3.26,1.88)(3.28,1.84)(3.25,1.85)(3.17,2.08)(3.15,2.13)(3.13,2.12)(3.19,1.8)(3.17,1.74)(3.18,1.7)(3.2,1.68)(3.27,1.76)(3.25,1.74)(3.39,1.88)(3.4,1.89)
};
\addplot[ci] coordinates {(2.162,1.674)(2.6,1.81)(3.0,1.92)(3.2,1.98)(3.4,2.07)(3.6,2.159)(3.6,1.97)(3.4,1.91)(3.2,1.88)(3.0,1.8)(2.6,1.61)(2.162,1.383)} -- cycle;
\addplot[rl] coordinates {(2.162,1.531)(3.6,2.092)};
\end{axis}
\begin{axis}[scale only axis,hide axis,clip=false,at={(772.75pt,-531.85pt)},anchor=south west,width=35.25pt,height=179.35pt,xmin=0,xmax=1,ymin=.115,ymax=2.911]
\addplot[fill=dright,draw=none] coordinates {(0,2.787)(.03,2.671)(.11,2.563)(.24,2.456)(.43,2.348)(.72,2.267)(.87,2.213)(.96,2.132)(1,2.024)(.95,1.943)(.75,1.836)(.64,1.755)(.49,1.647)(.34,1.566)(.25,1.458)(.16,1.296)(.06,1.081)(.035,.919)(.01,.65)(0,.24)} -- cycle;
\addplot[black,line width=.6pt] coordinates {(0,2.787)(.03,2.671)(.11,2.563)(.24,2.456)(.43,2.348)(.72,2.267)(.87,2.213)(.96,2.132)(1,2.024)(.95,1.943)(.75,1.836)(.64,1.755)(.49,1.647)(.34,1.566)(.25,1.458)(.16,1.296)(.06,1.081)(.035,.919)(.01,.65)(0,.24)};
\end{axis}

% ---------- d
\begin{axis}[scale only axis,clip=false,at={(55.5pt,-878.65pt)},anchor=south west,width=267.5pt,height=225.6pt,
 xmin=0,xmax=6670,ymin=-.038,ymax=1.0387,xtick={0,1000,2000,3000,4000,5000,6000},xticklabels={0,1000,2000,3000,4000,5000,6000},
 ytick={0,.2,.4,.6,.8,1},yticklabels={0.0,0.2,0.4,0.6,0.8,1.0},tick pos=left,tick align=outside,major tick length=4.5pt,
 axis line style={black!70,line width=.6pt},tick style={black!80},
 ticklabel style={font=\dej\fz{8.4}{10},text=black!85},yticklabel style={rotate=90,anchor=south},
 xlabel={Survival time (days)},ylabel={Survival Probability},
 x label style={font=\dej\fz{8.2}{10},at={(axis description cs:.502,-.146)},anchor=center,text=black!85},
 y label style={font=\fz{10}{11},at={(axis description cs:-.128,.5)},anchor=center,text=black!85},
 legend style={at={(.982,.019)},anchor=south east,draw=none,fill=none,font=\dej\fz{8.3}{9},row sep=-1.5pt,inner sep=0pt},
 legend cell align=left]
\addplot[const plot,blue!90!black,line width=.55pt] coordinates {(0,1)(30,.99)(60,.985)(92,.977)(120,.955)(150,.93)(180,.91)(200,.897)(240,.88)(281,.849)(335,.84)(360,.8)(389,.755)(430,.73)(470,.707)(510,.685)(550,.665)(600,.645)(658,.627)(740,.617)(820,.605)(880,.59)(955,.58)(990,.565)(1036,.556)(1090,.54)(1144,.532)(1225,.525)(1387,.525)(1430,.51)(1495,.49)(1580,.483)(1630,.47)(1680,.455)(1738,.4375)(1846,.423)(2008,.423)(2030,.406)(2090,.395)(2116,.38)(2563,.38)(2575,.357)(2693,.357)(2700,.33)(2709,.308)(2898,.281)(3060,.2547)(4668,.208)(4749,.162)(5143,.1165)(5472,.1165)};
\addplot[const plot,red!90!black,line width=.55pt] coordinates {(0,1)(40,.99)(92,.982)(130,.96)(200,.944)(281,.93)(310,.91)(350,.897)(400,.882)(443,.876)(480,.86)(523,.835)(570,.82)(631,.807)(660,.785)(712,.774)(770,.755)(820,.738)(945,.722)(1000,.709)(1100,.681)(1290,.663)(1457,.645)(1727,.615)(1765,.586)(1970,.554)(2078,.522)(2159,.486)(2310,.446)(2736,.394)(3308,.307)(4857,.1866)(6406,.106)(6406,.106)};
\legend{Lower (n=393),Higher (n=134)}
\node[inner sep=0pt,anchor=west,align=left,font=\dej\fz{8.35}{10.5}] at (axis cs:4011,.953) {LR test p-value=0.0033\\HR=0.625};
\end{axis}

% ---------- e
\begin{axis}[ualcan,at={(532.8pt,-862.7pt)},anchor=south west,width=279.2pt,height=174.55pt,
 xmin=-.505,xmax=4.496,xtick={0,1,2,3,4},xticklabels={{Normal\\(n=50)},{Stage1\\(n=27)},{Stage2\\(n=74)},{Stage3\\(n=82)},{Stage4\\(n=270)}}]
\BX{0}{.1657}{.1875}{.2038}{.2145}{.2591}{ubl}
\BX{1}{.0852}{.1528}{.1823}{.2021}{.2408}{uor}
\BX{2}{.105}{.1496}{.1744}{.1942}{.2386}{ubr}
\BX{3}{.0869}{.1456}{.1682}{.1818}{.2425}{ulm}
\BX{4}{.0711}{.1409}{.1672}{.1897}{.267}{urd}
\BR{0}{1}{.2643}{.2715}{.2635}
\BR{0}{1.99}{.279}{.2856}{.2785}
\BR{0}{2.98}{.2922}{.299}{.2922}
\BR{0}{3.95}{.3045}{.3112}{.3045}
\ST{.509}{.2704}{***}\ST{1.0}{.2848}{***}\ST{1.49}{.2985}{***}\ST{2.007}{.3109}{***}
\end{axis}

% ---------- f
\begin{axis}[ualcan,at={(60pt,-1205pt)},anchor=south west,width=272pt,height=169.5pt,
 xmin=-.503,xmax=2.503,xtick={0,1,2},xticklabels={{Normal\\(n=50)},{TP53 Mutant\\(n=332)},{TP53 NonMutant\\(n=178)}}]
\BX{0}{.1658}{.1874}{.2041}{.2142}{.2589}{ubl}
\BX{1}{.0773}{.1417}{.166}{.1852}{.2479}{urd}
\BX{2}{.0925}{.1606}{.1827}{.2046}{.2668}{uor}
\BR{.024}{1.998}{.289}{.297}{.2875}
\BR{.017}{.972}{.2725}{.2808}{.2725}
\BR{1.03}{2}{.2725}{.2808}{.2725}
\ST{1.0}{.3069}{***}\ST{.528}{.2889}{***}\ST{1.522}{.2889}{***}
\end{axis}

% ---------- g
\begin{axis}[ualcan,at={(551.8pt,-1157pt)},anchor=south west,width=278.2pt,height=174.75pt,
 xmin=-.5,xmax=4.48,xtick={0,1,2,3,4},xticklabels={{Normal\\(n=50)},{N0\\(n=180)},{N1\\(n=68)},{N2\\(n=172)},{N3\\(n=8)}}]
\BX{0}{.1656}{.1874}{.2037}{.2141}{.2589}{ubl}
\BX{1}{.0854}{.1488}{.1738}{.1913}{.2408}{uor}
\BX{2}{.0908}{.1455}{.1673}{.1834}{.2423}{ubr}
\BX{3}{.0733}{.1408}{.1673}{.1899}{.2668}{ulm}
\BX{4}{.1129}{.1475}{.1634}{.2188}{.2661}{urd}
\BR{0}{1}{.2614}{.2688}{.2614}
\BR{.01}{1.98}{.2767}{.2839}{.2767}
\BR{.01}{2.97}{.29}{.2973}{.29}
\BR{.01}{3.95}{.3017}{.3084}{.3017}
\ST{.508}{.2752}{***}\ST{.992}{.2905}{***}\ST{1.49}{.3038}{***}\ST{2.0}{.3158}{*}
\end{axis}
\end{tikzpicture}
\end{document}
